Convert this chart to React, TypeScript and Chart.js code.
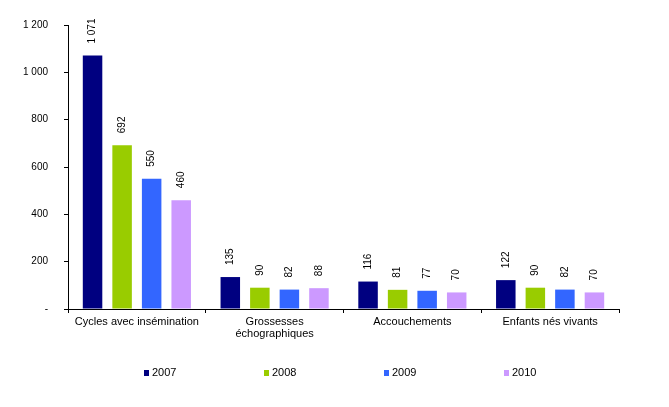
import { useRef, useEffect } from "react"
import { Chart, registerables } from "chart.js"

Chart.register(...registerables)

const categories: (string | string[])[] = [
    "Cycles avec insémination",
    ["Grossesses", "échographiques"],
    "Accouchements",
    "Enfants nés vivants",
]
const years = ["2007", "2008", "2009", "2010"]
const values2007 = [1071, 135, 116, 122]
const values2008 = [692, 90, 81, 90]
const values2009 = [550, 82, 77, 82]
const values2010 = [460, 88, 70, 70]
const yTicks = [0, 200, 400, 600, 800, 1000, 1200]

const colors = ["#000080", "#99CC00", "#3366FF", "#CC99FF"]
const FONT = "Arial, 'Liberation Sans', sans-serif"

const fmt = (v: number) => String(v).replace(/\B(?=(\d{3})+(?!\d))/g, " ")

// Vertical value labels above each bar
const valueLabels = {
    id: "valueLabels",
    afterDatasetsDraw(chart: Chart) {
        const ctx = chart.ctx
        ctx.save()
        ctx.font = `10px ${FONT}`
        ctx.fillStyle = "#000"
        ctx.textAlign = "left"
        ctx.textBaseline = "middle"
        chart.data.datasets.forEach((ds, i) => {
            const meta = chart.getDatasetMeta(i)
            meta.data.forEach((bar, j) => {
                const v = ds.data[j] as number
                ctx.save()
                ctx.translate(bar.x, bar.y - 12)
                ctx.rotate(-Math.PI / 2)
                ctx.fillText(fmt(v), 0, 0)
                ctx.restore()
            })
        })
        ctx.restore()
    },
}

// Wide-spaced legend under the chart
const spacedLegend = {
    id: "spacedLegend",
    afterDraw(chart: Chart) {
        const ctx = chart.ctx
        const { left } = chart.chartArea
        const y = 373
        ctx.save()
        ctx.font = `11px ${FONT}`
        ctx.textAlign = "left"
        ctx.textBaseline = "middle"
        chart.data.datasets.forEach((ds, i) => {
            const x = left + 76 + i * 120
            ctx.fillStyle = ds.backgroundColor as string
            ctx.fillRect(x, y - 3, 5, 6)
            ctx.fillStyle = "#000"
            ctx.fillText(String(ds.label), x + 8, y)
        })
        ctx.restore()
    },
}

export default function App() {
    const chartRef = useRef<HTMLCanvasElement | null>(null)
    const chartInstance = useRef<Chart | null>(null)

    useEffect(() => {
        if (!chartRef.current) return
        if (chartInstance.current) chartInstance.current.destroy()
        const ctx = chartRef.current.getContext("2d")
        if (!ctx) return

        const series = [values2007, values2008, values2009, values2010]

        chartInstance.current = new Chart(ctx, {
            type: "bar",
            data: {
                labels: categories,
                datasets: series.map((data, i) => ({
                    label: years[i],
                    data,
                    backgroundColor: colors[i],
                    borderWidth: 0,
                    categoryPercentage: 0.858,
                    barPercentage: 0.66,
                })),
            },
            options: {
                responsive: true,
                maintainAspectRatio: false,
                animation: false,
                layout: {
                    padding: { left: 0, right: 50, top: 25, bottom: 53 },
                },
                plugins: {
                    legend: { display: false },
                    tooltip: { enabled: false },
                },
                scales: {
                    x: {
                        afterFit: (scale: any) => {
                            scale.height = 45
                        },
                        grid: {
                            drawOnChartArea: false,
                            tickLength: 4,
                            color: "#000",
                            offset: true,
                        },
                        border: { display: true, color: "#000", width: 1 },
                        ticks: {
                            color: "#000",
                            padding: 3,
                            maxRotation: 0,
                            autoSkip: false,
                            font: { family: FONT, size: 11, lineHeight: 1.1 },
                        },
                    },
                    y: {
                        min: yTicks[0],
                        max: yTicks[yTicks.length - 1],
                        afterFit: (scale: any) => {
                            scale.width = 68
                        },
                        afterBuildTicks: (scale: any) => {
                            scale.ticks = yTicks.map((v) => ({ value: v }))
                        },
                        grid: {
                            drawOnChartArea: false,
                            tickLength: 4,
                            color: "#000",
                        },
                        border: { display: true, color: "#000", width: 1 },
                        ticks: {
                            color: "#000",
                            padding: 16,
                            font: { family: FONT, size: 10 },
                            callback: (v: any) => (Number(v) === 0 ? "-" : fmt(Number(v))),
                        },
                    },
                },
            },
            plugins: [valueLabels, spacedLegend],
        })

        return () => {
            if (chartInstance.current) {
                chartInstance.current.destroy()
                chartInstance.current = null
            }
        }
    }, [])

    return (
        <div style={{ position: "absolute", left: 0, top: 0, width: 669, height: 407, background: "#fff" }}>
            <canvas ref={chartRef} />
        </div>
    )
}
